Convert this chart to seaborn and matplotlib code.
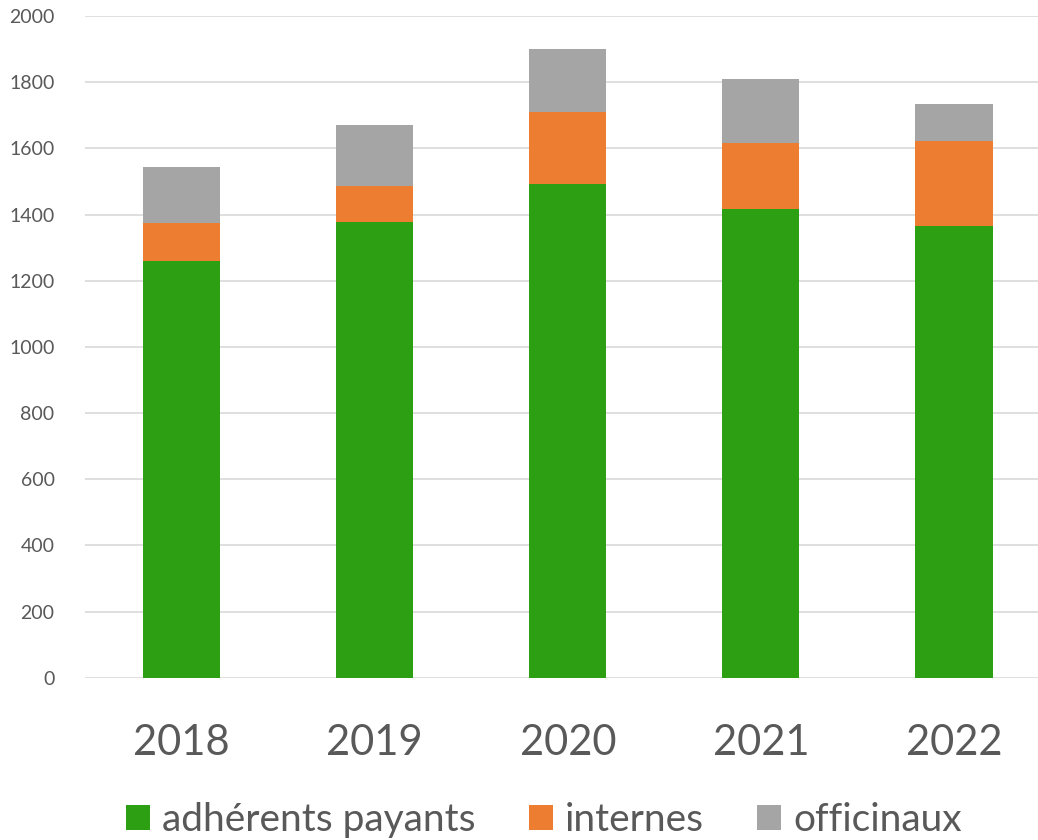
import matplotlib
matplotlib.use("Agg")
import matplotlib.pyplot as plt
from matplotlib.patches import Patch
import seaborn as sns
import pandas as pd
import numpy as np

years = ["2018", "2019", "2020", "2021", "2022"]
adherents_payants = [1260, 1378, 1493, 1418, 1366]
internes = [113, 109, 216, 199, 257]
officinaux = [171, 184, 192, 192, 110]

series_names = ["adhérents payants", "internes", "officinaux"]
colors = ["#2CA012", "#ED7D31", "#A5A5A5"]

sns.set_theme(style="white")
plt.rcParams["font.family"] = ["Lato", "DejaVu Sans"]

df = pd.DataFrame({
    "year": years,
    "green": adherents_payants,
    "orange": internes,
    "gray": officinaux,
})
df["lvl1"] = df["green"]
df["lvl2"] = df["green"] + df["orange"]
df["lvl3"] = df["lvl2"] + df["gray"]

fig = plt.figure(figsize=(10.38, 8.4), dpi=100)
ax = fig.add_axes([0.082, 0.193, 0.93, 0.788])

# stacked bars drawn as overlapping cumulative totals
for col, color in zip(["lvl3", "lvl2", "lvl1"], colors[::-1]):
    sns.barplot(data=df, x="year", y=col, color=color, width=0.4,
                saturation=1, ax=ax, edgecolor="none", linewidth=0)

ax.set_ylim(0, 2000)
ax.set_xlim(-0.5, 4.5)
ax.set_yticks(np.arange(0, 2001, 200))
ax.yaxis.grid(True, color="#D9D9D9", linewidth=1.2)
ax.set_axisbelow(True)
for s in ax.spines.values():
    s.set_visible(False)
ax.set_xlabel("")
ax.set_ylabel("")
ax.tick_params(axis="y", labelsize=14, labelcolor="#595959", length=0, pad=22)
ax.tick_params(axis="x", labelsize=30, labelcolor="#595959", length=0, pad=33)

handles = [Patch(facecolor=c, edgecolor="none") for c in colors]
fig.legend(handles, series_names, loc="center", bbox_to_anchor=(0.524, 0.024),
           ncol=3, frameon=False, fontsize=28, labelcolor="#595959",
           handlelength=0.62, handleheight=0.62, handletextpad=0.31,
           columnspacing=1.36, borderpad=0, borderaxespad=0)

fig.savefig("out.png", dpi=100)
